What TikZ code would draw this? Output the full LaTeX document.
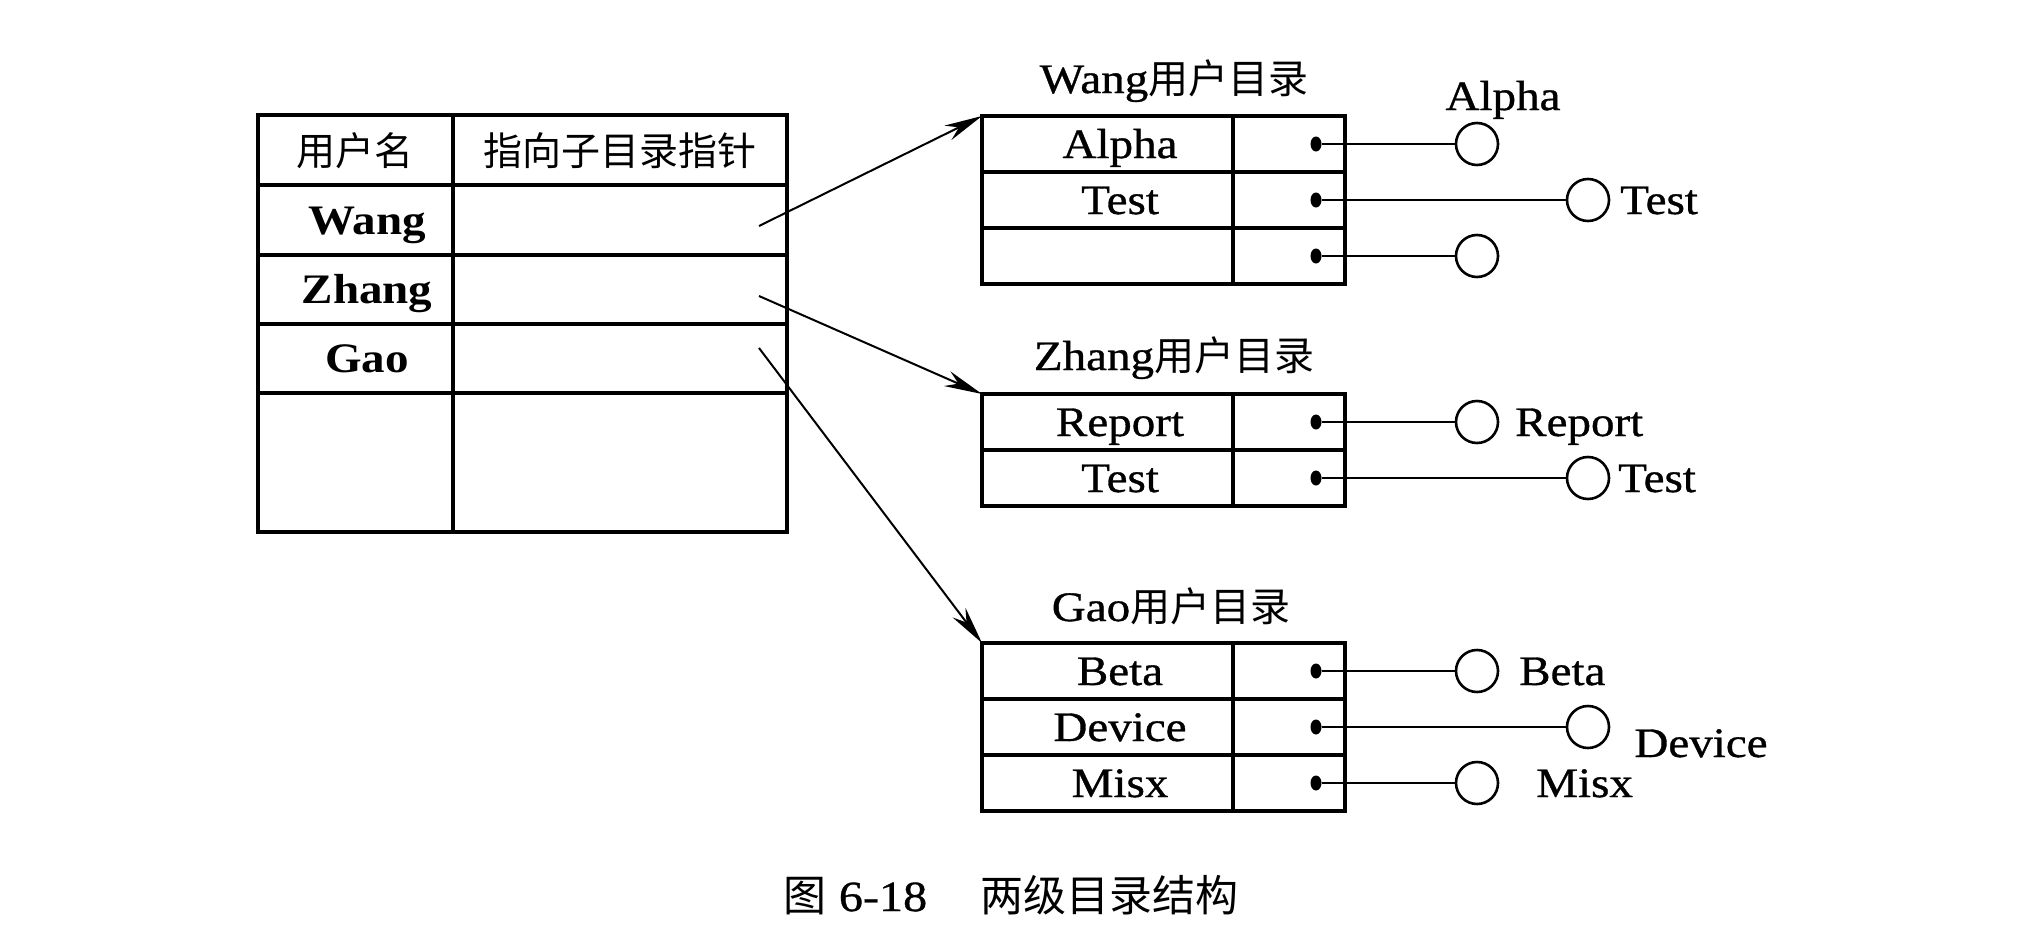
\documentclass[tikz,border=0pt]{standalone}
\usepackage{fontspec}
\setmainfont{Liberation Serif}[FakeStretch=1.12, UprightFeatures={FakeBold=0.8}]
\newfontfamily\cjk{Noto Sans CJK SC}
\usetikzlibrary{arrows.meta,shapes.geometric}
\begin{document}
\begin{tikzpicture}[x=1pt,y=-1pt,
  every node/.style={inner sep=0pt},
  lat/.style={font=\fontsize{42}{46}\selectfont},
  zh/.style={font=\fontsize{39}{44}\selectfont\cjk},
  tbl/.style={draw, line width=3.2pt, outer sep=0pt, anchor=north west},
  rule/.style={line width=3.2pt},
  file/.style={draw, circle, line width=2.6pt, minimum size=42pt},
  ptr/.style={fill, ellipse, minimum width=11pt, minimum height=15pt},
  link/.style={line width=2pt},
  >={Stealth[length=38pt,width=16pt]}]
\useasboundingbox (0,0) rectangle (2034,942);

% user table
\node[tbl, minimum width=529pt, minimum height=417pt] (users) at (258,115) {};
\foreach \y in {185,255,324,393}
  \draw[rule] (258,\y) -- (787,\y);
\draw[rule] (453,115) -- (453,532);
\node[zh, anchor=base] (hname) at (355,165) {用户名};
\node[zh, anchor=base] (hptr) at (620,165) {指向子目录指针};
\node[lat, anchor=base] (uwang) at (367,234) {\textbf{Wang}};
\node[lat, anchor=base] (uzhang) at (367,303) {\textbf{Zhang}};
\node[lat, anchor=base] (ugao) at (367,372) {\textbf{Gao}};
\coordinate (pwang) at (759,226);
\coordinate (pzhang) at (759,296);
\coordinate (pgao) at (759,348);

% sub directories
\node[tbl, minimum width=363pt, minimum height=168pt] (wangdir) at (982,116) {};
\draw[rule] (1233,116) -- (1233,284);
\foreach \y in {172,228}
  \draw[rule] (982,\y) -- (1345,\y);
\node[tbl, minimum width=363pt, minimum height=112pt] (zhangdir) at (982,394) {};
\draw[rule] (1233,394) -- (1233,506);
\draw[rule] (982,450) -- (1345,450);
\node[tbl, minimum width=363pt, minimum height=168pt] (gaodir) at (982,643) {};
\draw[rule] (1233,643) -- (1233,811);
\foreach \y in {699,755}
  \draw[rule] (982,\y) -- (1345,\y);

\node[lat, anchor=base] (twang) at (1174,93) {Wang{\fontsize{40}{44}\selectfont\cjk 用户目录}};
\node[lat, anchor=base] (tzhang) at (1174,370) {Zhang{\fontsize{40}{44}\selectfont\cjk 用户目录}};
\node[lat, anchor=base] (tgao) at (1171,621) {Gao{\fontsize{40}{44}\selectfont\cjk 用户目录}};

\node[lat, anchor=base] (ealpha) at (1120,158) {Alpha};
\node[lat, anchor=base] (etest) at (1120,214) {Test};
\node[lat, anchor=base] (ereport) at (1120,436) {Report};
\node[lat, anchor=base] (etest2) at (1120,492) {Test};
\node[lat, anchor=base] (ebeta) at (1120,685) {Beta};
\node[lat, anchor=base] (edevice) at (1120,741) {Device};
\node[lat, anchor=base] (emisx) at (1120,797) {Misx};

% pointers to files
\foreach \n/\x/\y in {1/1477/144, 2/1588/200, 3/1477/256,
                      4/1477/422, 5/1588/478,
                      6/1477/671, 7/1588/727, 8/1477/783} {
  \node[ptr] (d\n) at (1316,\y) {};
  \node[file] (f\n) at (\x,\y) {};
  \draw[link] (d\n) -- (f\n);
}
\node[lat, anchor=base] (lalpha) at (1503,110) {Alpha};
\node[lat, anchor=base west] (ltest) at (1620,214) {Test};
\node[lat, anchor=base west] (lreport) at (1515,436) {Report};
\node[lat, anchor=base west] (ltest2) at (1618,492) {Test};
\node[lat, anchor=base west] (lbeta) at (1519,685) {Beta};
\node[lat, anchor=base] (ldevice) at (1701,757) {Device};
\node[lat, anchor=base west] (lmisx) at (1536,797) {Misx};

\draw[link,->] (pwang) -- (wangdir.north west);
\draw[link,->] (pzhang) -- (zhangdir.north west);
\draw[link,->] (pgao) -- (gaodir.north west);

\node[anchor=base, font=\fontsize{43}{48}\selectfont] (caption) at (1011,911)
  {{\cjk 图} 6-18\hspace{53pt}{\cjk 两级目录结构}};
\end{tikzpicture}
\end{document}
